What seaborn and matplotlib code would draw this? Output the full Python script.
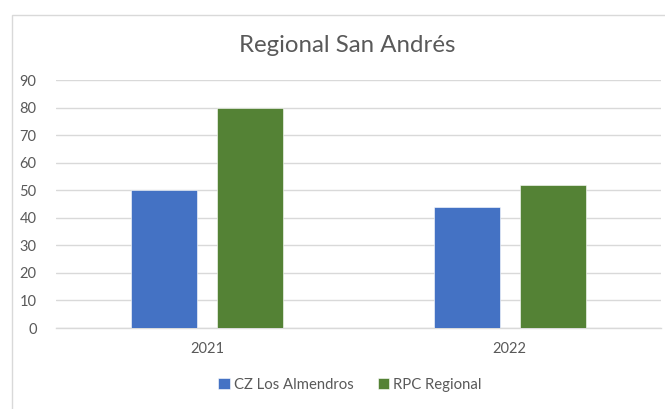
import matplotlib
matplotlib.use("Agg")
import matplotlib.pyplot as plt
from matplotlib.patches import Rectangle
import seaborn as sns
import pandas as pd

years = ["2021", "2022"]
cz_los_almendros = [50, 44]
rpc_regional = [80, 52]
series_names = ["CZ Los Almendros", "RPC Regional"]
colors = ["#4472C4", "#548235"]
y_ticks = [0, 10, 20, 30, 40, 50, 60, 70, 80, 90]

df = pd.DataFrame({
    "year": years * 2,
    "value": cz_los_almendros + rpc_regional,
    "series": [series_names[0]] * 2 + [series_names[1]] * 2,
})

sns.set_style("white")
plt.rcParams["font.family"] = ["Lato", "DejaVu Sans"]
text_color = "#595959"

fig = plt.figure(figsize=(6.65, 4.09), dpi=100)
ax = fig.add_axes([56 / 665, 1 - 328 / 409, 605 / 665, 248 / 409])

# chart frame
fig.patches.append(Rectangle((12 / 665, -0.1), 1.2, 1 - 15 / 409 + 0.1,
                             transform=fig.transFigure, fill=False,
                             edgecolor="#d9d9d9", linewidth=1.0, zorder=0))

sns.barplot(data=df, x="year", y="value", hue="series", hue_order=series_names,
            palette=colors, width=0.566, gap=0.23, ax=ax, zorder=3,
            edgecolor="#ffffff", linewidth=0.4, saturation=1)

ax.set_ylim(0, 90)
ax.set_xlim(-0.5, 1.5)
ax.set_yticks(y_ticks)
ax.yaxis.grid(True, color="#d9d9d9", linewidth=1.0, zorder=0)
ax.set_axisbelow(True)
for s in ["top", "right", "left"]:
    ax.spines[s].set_visible(False)
ax.spines["bottom"].set_color("#d9d9d9")
ax.spines["bottom"].set_linewidth(1.0)
ax.tick_params(axis="both", length=0, colors=text_color, labelsize=10.5)
ax.tick_params(axis="y", pad=14)
ax.tick_params(axis="x", pad=10)
ax.set_xlabel("")
ax.set_ylabel("")

fig.text(347 / 665, 1 - 45 / 409, "Regional San Andrés", ha="center", va="center",
         fontsize=17.3, color=text_color)

handles, labels = ax.get_legend_handles_labels()
ax.legend(handles, labels, loc="center", bbox_to_anchor=(350 / 665, 1 - 385 / 409),
          bbox_transform=fig.transFigure, ncol=2, frameon=False, fontsize=10.7,
          labelcolor=text_color, handlelength=0.75, handleheight=0.75,
          handletextpad=0.3, columnspacing=1.6)

fig.savefig("out.png", dpi=100)
